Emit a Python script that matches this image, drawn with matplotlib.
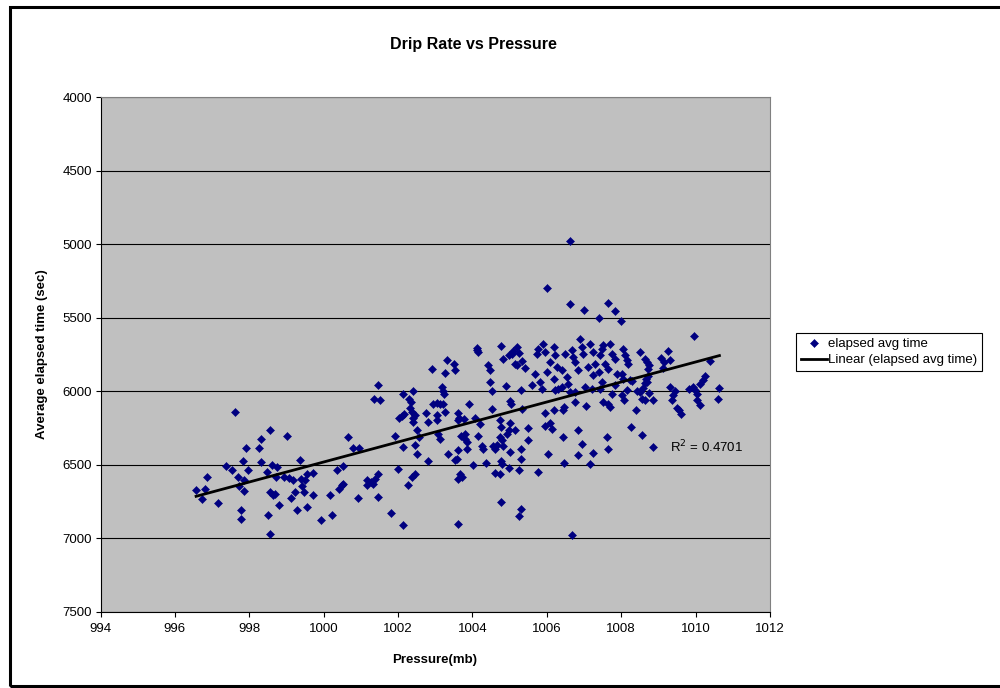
# %%
import matplotlib
matplotlib.use("Agg")
import matplotlib.pyplot as plt
from matplotlib.patches import Rectangle
import numpy as np

plt.rcParams['font.family'] = ['Liberation Sans', 'DejaVu Sans']

# %%
# Readings taken off the chart: pressure (mb) and average elapsed time (sec)
pressure_mb = [
    996.57, 996.72, 996.81, 996.87, 997.17, 997.37, 997.53, 997.62, 997.71, 997.73,
    997.77, 997.77, 997.82, 997.86, 997.86, 997.91, 997.97, 998.27, 998.32, 998.32,
    998.47, 998.51, 998.56, 998.56, 998.56, 998.60, 998.65, 998.69, 998.72, 998.75,
    998.81, 998.93, 999.01, 999.07, 999.11, 999.18, 999.23, 999.28, 999.36, 999.38,
    999.41, 999.47, 999.50, 999.54, 999.56, 999.71, 999.71, 999.92, 1000.17, 1000.22,
    1000.35, 1000.42, 1000.49, 1000.53, 1000.51, 1000.66, 1000.80, 1000.91, 1000.96,
    # 1001 - 1005
    1001.35, 1001.47, 1001.52, 1001.16, 1001.17, 1001.27, 1001.32, 1001.38, 1001.47, 1001.47,
    1001.81, 1001.92, 1002.01, 1002.03, 1002.10, 1002.16, 1002.14, 1002.12, 1002.14, 1002.26,
    1002.30, 1002.34, 1002.32, 1002.37, 1002.41, 1002.40, 1002.46, 1002.41, 1002.37, 1002.46,
    1002.50, 1002.55, 1002.46, 1002.52, 1002.75, 1002.81, 1002.81, 1002.91, 1002.93, 1003.04,
    1003.13, 1003.06, 1003.06, 1003.08, 1003.13, 1003.18, 1003.20, 1003.24, 1003.26, 1003.22,
    1003.26, 1003.31, 1003.33, 1003.51, 1003.53, 1003.53, 1003.58, 1003.61, 1003.62, 1003.65,
    1003.61, 1003.67, 1003.62, 1003.71, 1003.61, 1003.69, 1003.76, 1003.80, 1003.85, 1003.85,
    1003.81, 1003.91, 1004.01, 1004.07, 1004.12, 1004.13, 1004.16, 1004.16, 1004.21, 1004.25,
    1004.28, 1004.37, 1004.43, 1004.47, 1004.46, 1004.52, 1004.52, 1004.56, 1004.61, 1004.65,
    1004.61, 1004.74, 1004.74, 1004.76, 1004.74, 1004.79, 1004.82, 1004.76, 1004.83, 1004.76,
    1004.76, 1004.79, 1004.90, 1004.92, 1004.97, 1004.97, 1005.01, 1005.03, 1005.01, 1005.01,
    1004.97, 1005.06, 1005.10, 1005.19, 1005.15, 1005.19, 1005.15,
    # outliers at the top
    1006.61, 1006.00, 1006.61, 1007.00, 1007.65, 1007.84, 1007.40, 1008.00,
    # dense cluster
    1005.25, 1005.33, 1005.42, 1005.77, 1005.73, 1005.68, 1005.91, 1005.95, 1006.18, 1006.22,
    1006.09, 1006.00, 1006.27, 1006.18, 1006.40, 1006.49, 1006.54, 1006.67, 1006.76, 1006.71,
    1006.89, 1006.94, 1006.85, 1006.98, 1007.16, 1007.25, 1007.12, 1007.25, 1007.30, 1007.43,
    1007.48, 1007.52, 1007.57, 1007.70, 1007.75, 1007.65, 1007.84, 1007.88, 1007.39,
    # 1005 - 1008, below the cluster
    1006.58, 1006.31, 1006.22, 1006.40, 1005.60, 1005.82, 1005.86, 1005.31, 1006.76, 1006.63,
    1007.03, 1007.21, 1007.43, 1007.48, 1007.75, 1007.84, 1005.33, 1005.95, 1006.20, 1006.44,
    1006.47, 1006.76, 1007.05, 1007.52, 1007.70, 1007.65, 1005.50, 1005.95, 1006.09, 1006.13,
    1005.50, 1006.44, 1006.85, 1006.94, 1007.61, 1005.31, 1007.65, 1006.04, 1006.85, 1007.25,
    1005.31, 1006.47, 1007.16, 1005.25, 1005.76, 1005.31, 1005.25, 1006.67,
    # 1008 - 1011
    1009.96, 1008.06, 1008.10, 1008.15, 1008.19, 1008.51, 1008.64, 1008.69, 1008.76, 1008.73,
    1009.06, 1009.15, 1009.27, 1009.30, 1009.12, 1010.39, 1008.02, 1008.06, 1008.24, 1008.28,
    1008.67, 1008.73, 1008.64, 1008.69, 1010.26, 1010.19, 1010.12, 1008.15, 1008.42, 1008.58,
    1008.51, 1009.31, 1009.45, 1009.40, 1009.36, 1009.81, 1009.99, 1009.94, 1010.03, 1010.64,
    1008.02, 1008.08, 1008.55, 1008.64, 1008.76, 1008.85, 1010.05, 1010.12, 1010.60, 1008.40,
    1009.51, 1009.56, 1009.60, 1008.26, 1008.55, 1008.85,
]

elapsed_sec = [
    6674, 6731, 6663, 6584, 6761, 6509, 6538, 6142, 6584, 6647,
    6806, 6867, 6475, 6602, 6681, 6389, 6538, 6384, 6323, 6482,
    6552, 6844, 6266, 6686, 6969, 6500, 6708, 6697, 6584, 6516,
    6776, 6584, 6302, 6591, 6727, 6606, 6686, 6806, 6466, 6595,
    6647, 6686, 6606, 6561, 6788, 6557, 6704, 6878, 6704, 6844,
    6538, 6663, 6640, 6629, 6509, 6312, 6387, 6727, 6387,
    # 1001 - 1005
    6051, 5960, 6062, 6602, 6636, 6618, 6634, 6595, 6566, 6720,
    6829, 6307, 6527, 6180, 6171, 6153, 6022, 6380, 6912, 6640,
    6051, 6074, 6112, 6142, 6180, 6210, 6164, 5999, 6584, 6566,
    6266, 6312, 6368, 6425, 6149, 6210, 6477, 5847, 6090, 6081,
    6090, 6164, 6194, 6289, 6323, 5972, 5999, 6022, 6142, 6085,
    5877, 5790, 6430, 5813, 5858, 6470, 6459, 6149, 6194, 6180,
    6398, 6566, 6595, 6584, 6901, 6307, 6187, 6289, 6346, 6391,
    6323, 6085, 6504, 6180, 5722, 5704, 5734, 6307, 6226, 6375,
    6391, 6489, 5820, 5858, 5938, 6001, 6119, 6375, 6391, 6368,
    6557, 6566, 6198, 6244, 6312, 6334, 6375, 5695, 5779, 6754,
    6475, 6493, 5967, 6289, 6266, 6520, 6067, 6090, 6217, 6414,
    5756, 5745, 5727, 5700, 5813, 5824, 6266,
    # outliers at the top
    4981, 5296, 5410, 5450, 5401, 5457, 5503, 5523,
    # dense cluster
    5741, 5795, 5840, 5711, 5750, 5881, 5677, 5734, 5700, 5756,
    5802, 5870, 5836, 5915, 5858, 5745, 5904, 5722, 5802, 5768,
    5643, 5700, 5858, 5745, 5677, 5734, 5836, 5892, 5813, 5756,
    5711, 5688, 5813, 5677, 5745, 5847, 5779, 5881, 5870,
    # 1005 - 1008, below the cluster
    5949, 5983, 5994, 5972, 5960, 5938, 5988, 5994, 6006, 6006,
    5972, 5983, 5983, 5938, 6017, 5960, 6119, 6146, 6126, 6130,
    6108, 6074, 6101, 6074, 6108, 6085, 6251, 6237, 6214, 6255,
    6334, 6312, 6266, 6362, 6312, 6391, 6396, 6428, 6436, 6421,
    6459, 6489, 6496, 6534, 6550, 6804, 6849, 6976,
    # 1008 - 1011
    5627, 5711, 5756, 5790, 5813, 5734, 5779, 5802, 5824, 5847,
    5772, 5802, 5729, 5786, 5840, 5795, 5881, 5915, 5922, 5931,
    5915, 5899, 5945, 5938, 5899, 5926, 5949, 5994, 5999, 5976,
    6006, 5972, 5999, 6028, 6058, 5983, 5994, 5972, 6017, 5979,
    6028, 6062, 6051, 6062, 6013, 6062, 6058, 6096, 6051, 6130,
    6112, 6130, 6158, 6244, 6296, 6380,
]

x_ticks = np.arange(994, 1013, 2)
y_ticks = np.arange(4000, 7501, 500)
r2_label = "R$^2$ = 0.4701"

# %%
fig = plt.figure(figsize=(10, 6.88), dpi=100)
ax = fig.add_axes([0.1005, 0.1109, 0.6695, 0.7481])
ax.set_facecolor("#C0C0C0")

# horizontal gridlines only, like the spreadsheet chart
ax.yaxis.grid(True, color="black", linewidth=0.8)
ax.set_axisbelow(True)

ax.plot(pressure_mb, elapsed_sec, "D", color="#000080", markersize=3.7,
        markeredgewidth=0.4, label="elapsed avg time")

# linear trendline fitted to the data
p = np.array(pressure_mb)
coef = np.polyfit(p, np.array(elapsed_sec), 1)
xs = np.array([p.min(), p.max()])
ax.plot(xs, np.polyval(coef, xs), color="black", linewidth=2,
        label="Linear (elapsed avg time)")

ax.set_xlim(994, 1012)
ax.set_ylim(7500, 4000)
ax.set_xticks(x_ticks)
ax.set_yticks(y_ticks)
ax.tick_params(axis="both", direction="out", length=3.5, width=0.8,
               labelsize=9.5, colors="black")
ax.tick_params(axis="x", pad=4.5)
ax.tick_params(axis="y", pad=2.5)
for side in ["top", "right"]:
    ax.spines[side].set_color("#808080")
for side in ["left", "bottom"]:
    ax.spines[side].set_color("black")

ax.text(0.851, 0.32, r2_label, transform=ax.transAxes, fontsize=9.5,
        ha="left", va="center")

# %%
# titles and labels placed where the original has them
fig.text(0.473, 0.936, "Drip Rate vs Pressure", fontsize=11.5,
         fontweight="bold", ha="center", va="center")
fig.text(0.435, 0.041, "Pressure(mb)", fontsize=9.5, fontweight="bold",
         ha="center", va="center")
fig.text(0.042, 0.485, "Average elapsed time (sec)", fontsize=9.5,
         fontweight="bold", ha="center", va="center", rotation=90)

leg = fig.legend(loc="center left", bbox_to_anchor=(0.796, 0.488),
                 fontsize=9.5, frameon=True, fancybox=False, framealpha=1,
                 edgecolor="black", handlelength=2.0, handletextpad=0.1,
                 borderpad=0.35, labelspacing=0.3, borderaxespad=0,
                 numpoints=1)
leg.get_frame().set_linewidth(0.8)

# outer chart frame
fig.patches.append(Rectangle((0.0095, 0.003), 1.1, 0.987, transform=fig.transFigure,
                             fill=False, edgecolor="black", linewidth=2.2,
                             clip_on=False))

fig.savefig("out.png", dpi=100)
